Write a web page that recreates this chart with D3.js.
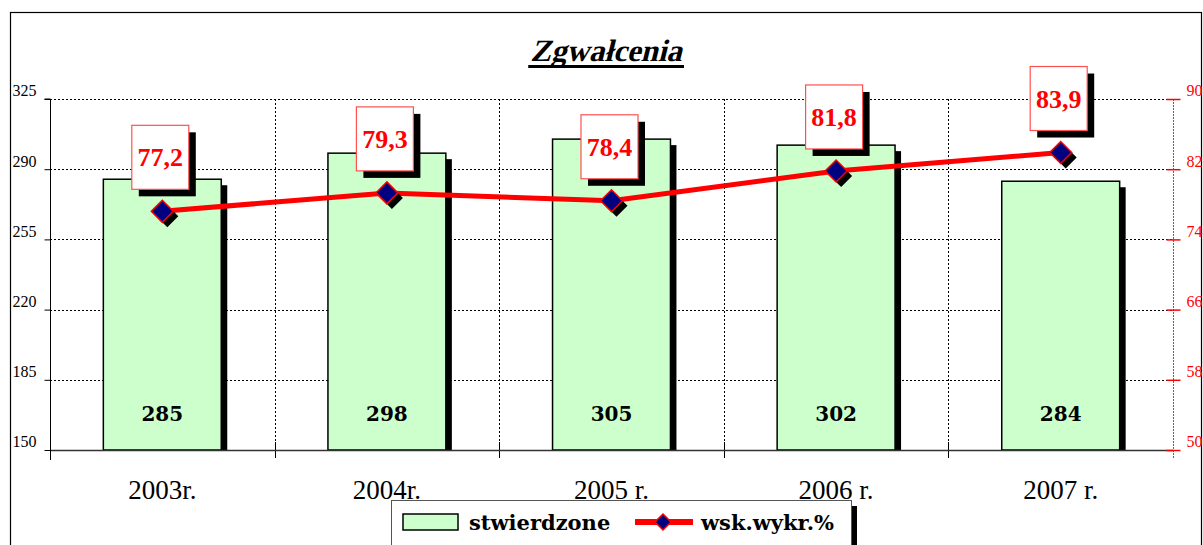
<!DOCTYPE html>
<html>
<head>
<meta charset="utf-8">
<script src="https://cdn.jsdelivr.net/npm/d3@7"></script>
<style>
  body { margin: 0; background: #fff; }
  svg text { font-family: "Liberation Serif", "DejaVu Serif", serif; }
</style>
</head>
<body>
<div id="chart"></div>
<script>
// Chart data
const years = ["2003r.", "2004r.", "2005 r.", "2006 r.", "2007 r."];
const stwierdzone = [285, 298, 305, 302, 284];
const wskWykr = [77.2, 79.3, 78.4, 81.8, 83.9];
const leftTicks = [150, 185, 220, 255, 290, 325];
const rightTicks = [50, 58, 66, 74, 82, 90];

const width = 1203, height = 545;
const margin = { top: 99, right: 30, bottom: 95, left: 50 };

const svg = d3.select("#chart")
    .append("svg")
    .attr("width", width)
    .attr("height", height);

// outer frame
svg.append("rect")
    .attr("x", 10.5).attr("y", 12.5)
    .attr("width", 1191).attr("height", 560)
    .attr("fill", "none")
    .attr("stroke", "#000")
    .attr("stroke-width", 1.2);

const x = d3.scaleBand()
    .domain(years)
    .range([margin.left, width - margin.right])
    .paddingInner(0)
    .paddingOuter(0);

const y = d3.scaleLinear()
    .domain([150, 325])
    .range([height - margin.bottom, margin.top]);

const y2 = d3.scaleLinear()
    .domain([50, 90])
    .range([height - margin.bottom, margin.top]);

const x0 = margin.left, x1 = width - margin.right;
const yBottom = y(150);

// horizontal grid
svg.append("g")
    .selectAll("line")
    .data(leftTicks.filter(d => d > 150))
    .join("line")
    .attr("x1", x0).attr("x2", x1)
    .attr("y1", d => Math.round(y(d)) + 0.5)
    .attr("y2", d => Math.round(y(d)) + 0.5)
    .attr("stroke", "#000")
    .attr("stroke-width", 1)
    .attr("stroke-dasharray", "2,2");

// vertical grid at category boundaries
const bounds = years.slice(1).map(d => x(d));
svg.append("g")
    .selectAll("line")
    .data(bounds)
    .join("line")
    .attr("x1", d => Math.round(d) + 0.5).attr("x2", d => Math.round(d) + 0.5)
    .attr("y1", margin.top).attr("y2", yBottom)
    .attr("stroke", "#000")
    .attr("stroke-dasharray", "2,2");

// category ticks
svg.append("g")
    .selectAll("line")
    .data(bounds)
    .join("line")
    .attr("x1", d => Math.round(d) + 0.5).attr("x2", d => Math.round(d) + 0.5)
    .attr("y1", yBottom - 8).attr("y2", yBottom + 8)
    .attr("stroke", "#000");

// bars
const bw = x.bandwidth() * 0.525;
const barG = svg.append("g");
barG.selectAll("rect.shadow")
    .data(stwierdzone)
    .join("rect")
    .attr("class", "shadow")
    .attr("x", (d, i) => x(years[i]) + (x.bandwidth() - bw) / 2 + 6)
    .attr("y", d => y(d) + 6)
    .attr("width", bw)
    .attr("height", d => yBottom - y(d) - 6)
    .attr("fill", "#000");

barG.selectAll("rect.bar")
    .data(stwierdzone)
    .join("rect")
    .attr("class", "bar")
    .attr("x", (d, i) => x(years[i]) + (x.bandwidth() - bw) / 2)
    .attr("y", d => y(d))
    .attr("width", bw)
    .attr("height", d => yBottom - y(d))
    .attr("fill", "#ccffcc")
    .attr("stroke", "#000")
    .attr("stroke-width", 1.5);

// bar values
barG.selectAll("text")
    .data(stwierdzone)
    .join("text")
    .attr("x", (d, i) => x(years[i]) + x.bandwidth() / 2)
    .attr("y", 421)
    .attr("text-anchor", "middle")
    .attr("font-size", 20)
    .attr("font-weight", "bold")
    .style("font-family", "'DejaVu Serif', serif")
    .text(d => d);

// bottom axis line
svg.append("line")
    .attr("x1", x0).attr("x2", x1)
    .attr("y1", yBottom + 0.5).attr("y2", yBottom + 0.5)
    .attr("stroke", "#333")
    .attr("stroke-width", 1.5);

// left axis
const leftAxis = svg.append("g")
    .attr("transform", `translate(${x0 + 0.5},0)`)
    .call(d3.axisLeft(y).tickValues(leftTicks).tickSize(6).tickPadding(12));
leftAxis.select(".domain").attr("stroke", "#000").attr("d", `M-6,${y(325)}H0V${yBottom + 10}`);
leftAxis.selectAll("text")
    .attr("font-size", 16)
    .attr("font-family", "Liberation Serif, serif")
    .attr("text-anchor", "start")
    .attr("x", -38)
    .attr("dy", "-0.2em");

// right axis
const rightAxis = svg.append("g")
    .attr("transform", `translate(${x1 + 0.5},0)`)
    .call(d3.axisRight(y2).tickValues(rightTicks).tickSize(0));
rightAxis.select(".domain")
    .attr("stroke", "#d33")
    .attr("stroke-dasharray", "2,1")
    .attr("d", `M0,${y2(90)}V${yBottom + 8}`);
rightAxis.selectAll(".tick line")
    .attr("x1", -7).attr("x2", 7)
    .attr("stroke", "#f00")
    .attr("stroke-width", 1.5);
rightAxis.selectAll("text")
    .attr("fill", "#f00")
    .attr("font-size", 16)
    .attr("font-family", "Liberation Serif, serif")
    .attr("x", 13)
    .attr("dy", "-0.2em");

// x labels
svg.append("g")
    .selectAll("text")
    .data(years)
    .join("text")
    .attr("x", d => x(d) + x.bandwidth() / 2)
    .attr("y", 499)
    .attr("text-anchor", "middle")
    .attr("font-size", 27)
    .text(d => d);

// line
const cx = (d, i) => x(years[i]) + x.bandwidth() / 2;
const line = d3.line()
    .x((d, i) => cx(d, i))
    .y(d => y2(d));
svg.append("path")
    .datum(wskWykr)
    .attr("d", line)
    .attr("fill", "none")
    .attr("stroke", "#ff0000")
    .attr("stroke-width", 5);

// markers
const diamond = "M0,-11L11,0L0,11L-11,0Z";
const mk = svg.append("g");
mk.selectAll("path.ms")
    .data(wskWykr)
    .join("path")
    .attr("class", "ms")
    .attr("transform", (d, i) => `translate(${cx(d, i) + 5},${y2(d) + 5})`)
    .attr("d", diamond)
    .attr("fill", "#000");
mk.selectAll("path.m")
    .data(wskWykr)
    .join("path")
    .attr("class", "m")
    .attr("transform", (d, i) => `translate(${cx(d, i)},${y2(d)})`)
    .attr("d", diamond)
    .attr("fill", "#000080")
    .attr("stroke", "#ff0000")
    .attr("stroke-width", 1.5);

// value label boxes
const fmt = d => String(d).replace(".", ",");
const boxW = 57, boxH = 64;
const lab = svg.append("g");
lab.selectAll("rect.s")
    .data(wskWykr)
    .join("rect")
    .attr("class", "s")
    .attr("x", (d, i) => cx(d, i) - boxW / 2 - 2 + 7)
    .attr("y", d => y2(d) - 22 - boxH + 7)
    .attr("width", boxW).attr("height", boxH)
    .attr("fill", "#000");
lab.selectAll("rect.b")
    .data(wskWykr)
    .join("rect")
    .attr("class", "b")
    .attr("x", (d, i) => cx(d, i) - boxW / 2 - 2)
    .attr("y", d => y2(d) - 22 - boxH)
    .attr("width", boxW).attr("height", boxH)
    .attr("fill", "#fff")
    .attr("stroke", "#ff5050")
    .attr("stroke-width", 1.2);
lab.selectAll("text")
    .data(wskWykr)
    .join("text")
    .attr("x", (d, i) => cx(d, i) - 2)
    .attr("y", d => y2(d) - 22 - boxH + 41)
    .attr("text-anchor", "middle")
    .attr("font-size", 26)
    .attr("font-weight", "bold")
    .attr("fill", "#ff0000")
    .text(d => fmt(d));

// title (slanted serif)
const titleG = svg.append("g").attr("transform", "translate(606,61)");
const title = titleG.append("text")
    .attr("transform", "skewX(-14)")
    .attr("text-anchor", "middle")
    .attr("font-size", 31)
    .attr("font-weight", "bold")
    .text("Zgwałcenia");
const tb = title.node().getBBox();
svg.append("rect")
    .attr("x", 606 + tb.x - 2).attr("y", 65)
    .attr("width", tb.width + 4).attr("height", 3)
    .attr("fill", "#000");

// legend
const lg = svg.append("g").attr("transform", "translate(391,500)");
lg.append("rect")
    .attr("x", 460).attr("y", 6).attr("width", 6).attr("height", 60)
    .attr("fill", "#000");
lg.append("rect")
    .attr("x", 0.5).attr("y", 0.5).attr("width", 460).attr("height", 60)
    .attr("fill", "#fff").attr("stroke", "#555").attr("stroke-width", 1);
lg.append("rect")
    .attr("x", 12).attr("y", 14).attr("width", 55).attr("height", 16)
    .attr("fill", "#ccffcc").attr("stroke", "#000").attr("stroke-width", 1.5);
lg.append("text")
    .attr("x", 78).attr("y", 30)
    .attr("font-size", 21).attr("font-weight", "bold")
    .style("font-family", "'DejaVu Serif', serif")
    .text("stwierdzone");
lg.append("line")
    .attr("x1", 244).attr("x2", 302).attr("y1", 22).attr("y2", 22)
    .attr("stroke", "#ff0000").attr("stroke-width", 6);
lg.append("path")
    .attr("transform", "translate(272,22)")
    .attr("d", "M0,-8L8,0L0,8L-8,0Z")
    .attr("fill", "#000080").attr("stroke", "#ff0000").attr("stroke-width", 1.5);
lg.append("text")
    .attr("x", 310).attr("y", 30)
    .attr("font-size", 21).attr("font-weight", "bold")
    .style("font-family", "'DejaVu Serif', serif")
    .text("wsk.wykr.%");
</script>
</body>
</html>
